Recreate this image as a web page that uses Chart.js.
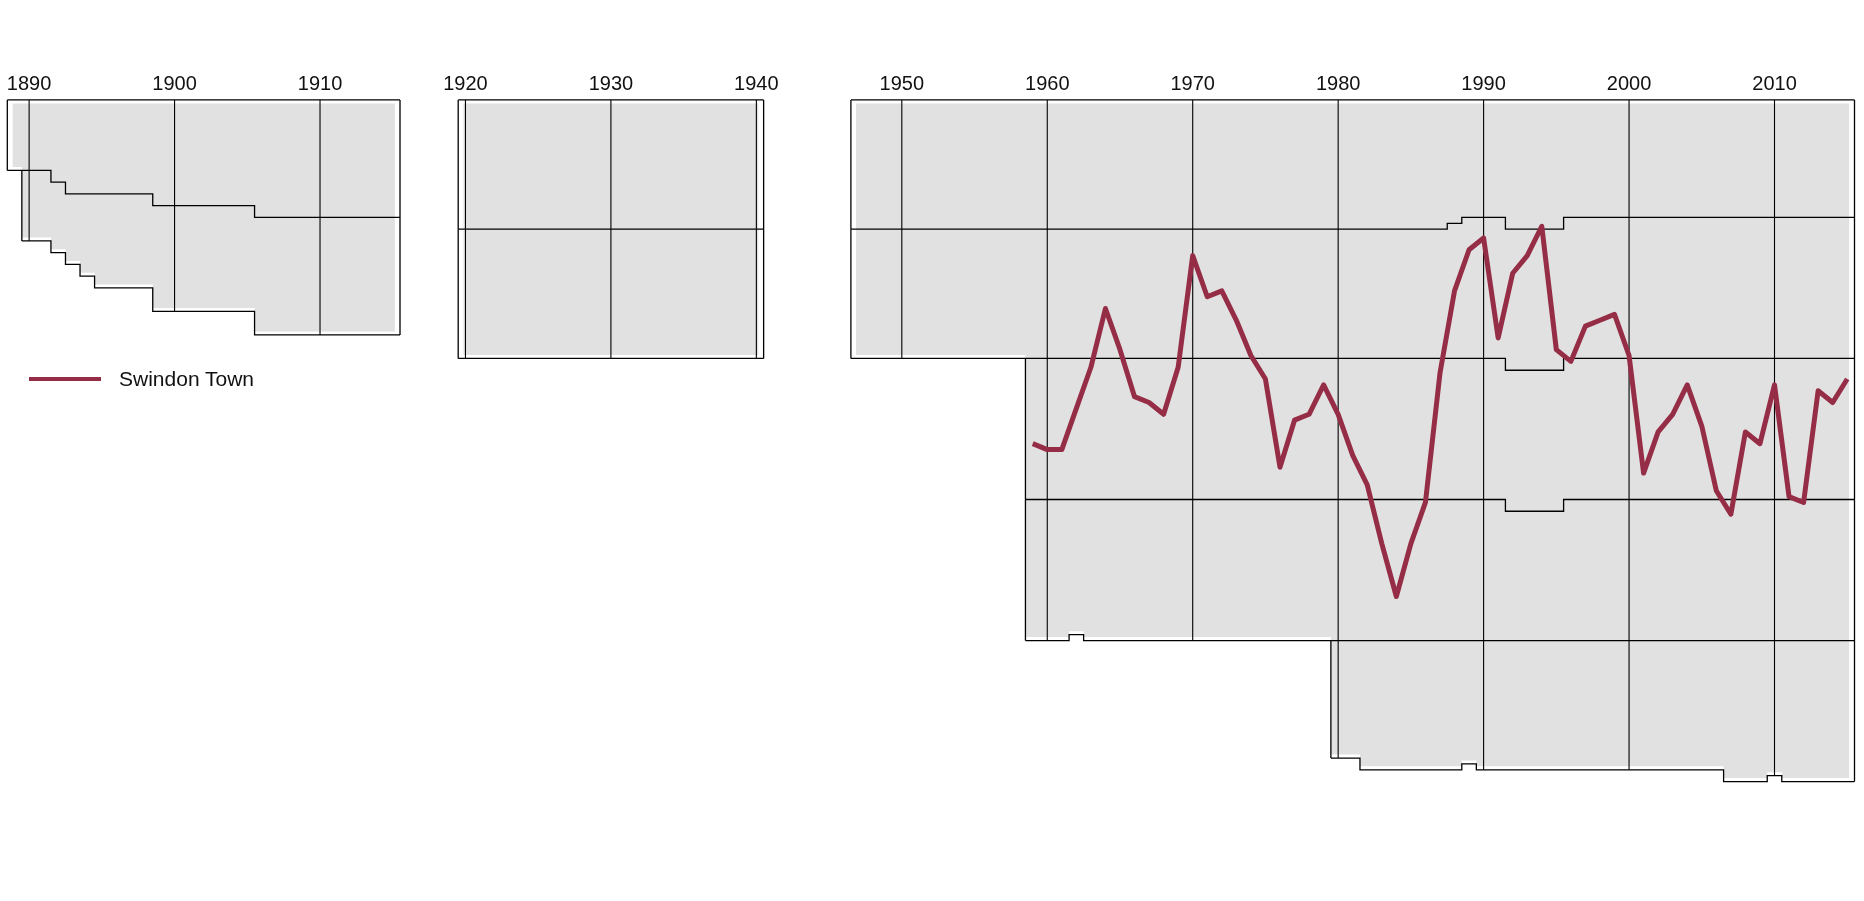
<!DOCTYPE html>
<html>
<head>
<meta charset="utf-8">
<script src="https://cdn.jsdelivr.net/npm/chart.js@4.4.1/dist/chart.umd.min.js"></script>
<style>
  html, body { margin: 0; padding: 0; background: #fff; }
  #wrap { position: relative; width: 1864px; height: 901px; }
  #legend {
    position: absolute; left: 29px; top: 367px; height: 24px;
    display: flex; align-items: center;
    font-family: 'Liberation Sans', Arial, sans-serif; font-size: 21px; color: #111;
  }
  #legend .swatch { width: 72px; height: 4px; background: #962d46; margin-right: 18px; }
</style>
</head>
<body>
<div id="wrap">
  <canvas id="chart" width="1864" height="901"></canvas>
  <div id="legend"><span class="swatch"></span><span>Swindon Town</span></div>
</div>
<script>
// decade labels along the top
const tickYears = [1890, 1900, 1910, 1920, 1930, 1940, 1950, 1960, 1970, 1980, 1990, 2000, 2010];

// bottom of each division, as cumulative league position: [firstSeason, lastSeason, position]
const era1Div1 = [[1889, 1891, 12], [1892, 1892, 14], [1893, 1898, 16], [1899, 1905, 18], [1906, 1915, 20]];
const era1Div2 = [[1890, 1891, 24], [1892, 1892, 26], [1893, 1893, 28], [1894, 1894, 30], [1895, 1898, 32], [1899, 1905, 36], [1906, 1915, 40]];

const era2Div1 = [[1920, 1940, 22]];
const era2Div2 = [[1920, 1940, 44]];

const era3Div1 = [[1947, 1987, 22], [1988, 1988, 21], [1989, 1991, 20], [1992, 1995, 22], [1996, 2015, 20]];
const era3Div2 = [[1947, 1991, 44], [1992, 1995, 46], [1996, 2015, 44]];
const era3Div3 = [[1959, 1991, 68], [1992, 1995, 70], [1996, 2015, 68]];
const era3Div4 = [[1959, 1961, 92], [1962, 1962, 91], [1963, 2015, 92]];
const era3Div5 = [[1980, 1981, 112], [1982, 1988, 114], [1989, 1989, 113], [1990, 2006, 114], [2007, 2009, 116], [2010, 2010, 115], [2011, 2015, 116]];

// Swindon Town overall position, seasons 1959..2015
const swindonFirst = 1959;
const swindonPos = [59, 60, 60, 53, 46, 36, 43, 51, 52, 54,
                    46, 27, 34, 33, 38, 44, 48, 63, 55, 54,
                    49, 54, 61, 66, 76, 85, 76, 69, 47, 33,
                    26, 24, 41, 30, 27, 22, 43, 45, 39, 38,
                    37, 44, 64, 57, 54, 49, 56, 67, 71, 57,
                    59, 49, 68, 69, 50, 52, 48];

const eras = [
    { first: 1889, last: 1915, divs: [era1Div1, era1Div2] },
    { first: 1920, last: 1940, divs: [era2Div1, era2Div2] },
    { first: 1947, last: 2015, divs: [era3Div1, era3Div2, era3Div3, era3Div4, era3Div5] }
];

const GREY = '#e1e1e1';
const INK = '#000000';
const SWINDON = '#962d46';

function valueAt(segs, yr) {
    const s = segs.find(([a, b]) => yr >= a && yr <= b);
    return s ? s[2] : null;
}

function stepLine(segs) {
    const pts = [];
    segs.forEach(([a, b, v]) => {
        pts.push({ x: a - 0.5, y: v }, { x: b + 0.5, y: v });
    });
    return pts;
}

function bottomAt(era, yr) {
    let m = null;
    era.divs.forEach(d => {
        const v = valueAt(d, yr);
        if (v !== null && (m === null || v > m)) m = v;
    });
    return m;
}

const datasets = [];

// highlighted club
datasets.push({
    label: 'Swindon Town',
    data: swindonPos.map((p, i) => ({ x: swindonFirst + i, y: p - 0.5 })),
    borderColor: SWINDON,
    borderWidth: 5,
    borderJoinStyle: 'round',
    pointRadius: 0,
    tension: 0,
    fill: false,
    order: 0,
    clip: false
});

function outline(points, width) {
    datasets.push({
        data: points,
        borderColor: INK,
        borderWidth: width || 1.3,
        pointRadius: 0,
        tension: 0,
        fill: false,
        order: 1,
        clip: false
    });
}

eras.forEach(era => {
    // top and right edges
    outline([{ x: era.first - 0.5, y: 0 }, { x: era.last + 0.5, y: 0 }]);
    const lastDiv = era.divs[era.divs.length - 1];
    outline([{ x: era.last + 0.5, y: 0 }, { x: era.last + 0.5, y: lastDiv[lastDiv.length - 1][2] }]);

    era.divs.forEach((d, k) => {
        const start = d[0][0];
        const above = k === 0 ? 0 : valueAt(era.divs[k - 1], start);
        outline([{ x: start - 0.5, y: above }, { x: start - 0.5, y: d[0][2] }]);
        outline(stepLine(d));
    });

    // grey mass of all other clubs
    const pts = [];
    for (let yr = era.first; yr <= era.last; yr++) {
        const b = bottomAt(era, yr) - 0.6;
        pts.push({ x: yr === era.first ? yr - 0.15 : yr - 0.5, y: b });
        pts.push({ x: yr === era.last ? yr + 0.15 : yr + 0.5, y: b });
    }
    datasets.push({
        data: pts,
        borderWidth: 0,
        borderColor: GREY,
        backgroundColor: GREY,
        pointRadius: 0,
        tension: 0,
        fill: { value: 0.6 },
        order: 3
    });
});

// decade gridlines, only as deep as the league at that season
tickYears.forEach(yr => {
    const era = eras.find(e => yr >= e.first && yr <= e.last);
    if (!era) return;
    outline([{ x: yr, y: 0 }, { x: yr, y: bottomAt(era, yr) }], 1.1);
});

new Chart(document.getElementById('chart').getContext('2d'), {
    type: 'line',
    data: { datasets: datasets },
    options: {
        responsive: false,
        animation: false,
        events: [],
        layout: { padding: { left: 7.3, right: 9.5, top: 69.9, bottom: 95.9 } },
        plugins: { legend: { display: false }, tooltip: { enabled: false } },
        scales: {
            x: {
                type: 'linear',
                position: 'top',
                min: 1888.5,
                max: 2015.5,
                grid: { display: false, drawTicks: false },
                border: { display: false },
                afterBuildTicks: axis => { axis.ticks = tickYears.map(v => ({ value: v })); },
                ticks: {
                    autoSkip: false,
                    maxRotation: 0,
                    padding: 3,
                    color: '#111',
                    font: { family: "'Liberation Sans', Arial, sans-serif", size: 20 },
                    callback: v => String(v)
                }
            },
            y: {
                type: 'linear',
                reverse: true,
                min: 0,
                max: 120,
                display: false
            }
        }
    }
});
</script>
</body>
</html>
